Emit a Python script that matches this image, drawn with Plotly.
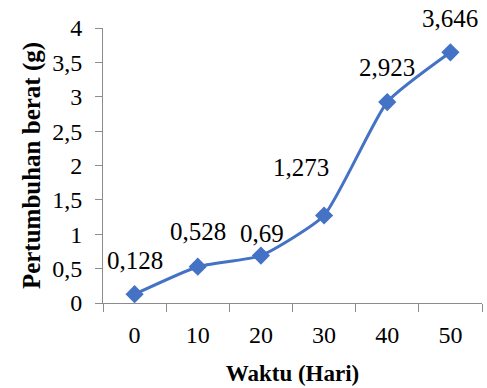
import plotly.graph_objects as go

# Growth data: day of observation vs weight gain (g)
days = ["0", "10", "20", "30", "40", "50"]
weight_gain = [0.128, 0.528, 0.69, 1.273, 2.923, 3.646]
value_labels = ["0,128", "0,528", "0,69", "1,273", "2,923", "3,646"]

# label offsets (px) relative to each point
label_dx = [0, 0, 1, -23, 0, 0]
label_dy = [34, 35, 22, 48, 35, 34]

SERIF = "Liberation Serif"
BLUE = "#4472C4"
AXIS = "#8c8c8c"

fig = go.Figure()
fig.add_trace(go.Scatter(
    x=days, y=weight_gain,
    mode="lines+markers",
    line=dict(color=BLUE, width=3, shape="spline", smoothing=0.5),
    marker=dict(symbol="diamond", size=14, color=BLUE),
    hoverinfo="skip",
))

for i, (v, t, dx, dy) in enumerate(zip(weight_gain, value_labels, label_dx, label_dy)):
    fig.add_annotation(x=i, y=v, text=t, showarrow=False,
                       xshift=dx, yshift=dy,
                       font=dict(family=SERIF, size=25, color="black"))

fig.update_layout(
    width=487, height=388,
    margin=dict(l=103, r=5, t=28, b=85),
    paper_bgcolor="white", plot_bgcolor="white",
    separators=",.",
    showlegend=False,
    font=dict(family=SERIF, size=24, color="black"),
)

fig.update_xaxes(
    type="category", range=[-0.5, 5.5],
    tickson="boundaries", ticks="outside", ticklen=8, tickcolor=AXIS,
    showline=True, linecolor=AXIS, linewidth=1, showgrid=False,
    tickfont=dict(family=SERIF, size=24),
    ticklabelstandoff=10,
    title=dict(text="<b>Waktu (Hari)</b>", font=dict(family=SERIF, size=23), standoff=18),
)
fig.update_yaxes(
    range=[0, 4], dtick=0.5, tick0=0,
    ticks="outside", ticklen=7, tickcolor=AXIS,
    showline=True, linecolor=AXIS, linewidth=1, showgrid=False, zeroline=False,
    tickfont=dict(family=SERIF, size=24),
    ticklabelstandoff=8,
    title=dict(text="<b>Pertumbuhan berat (g)</b>", font=dict(family=SERIF, size=25), standoff=4),
)

fig.write_html("out.html")
